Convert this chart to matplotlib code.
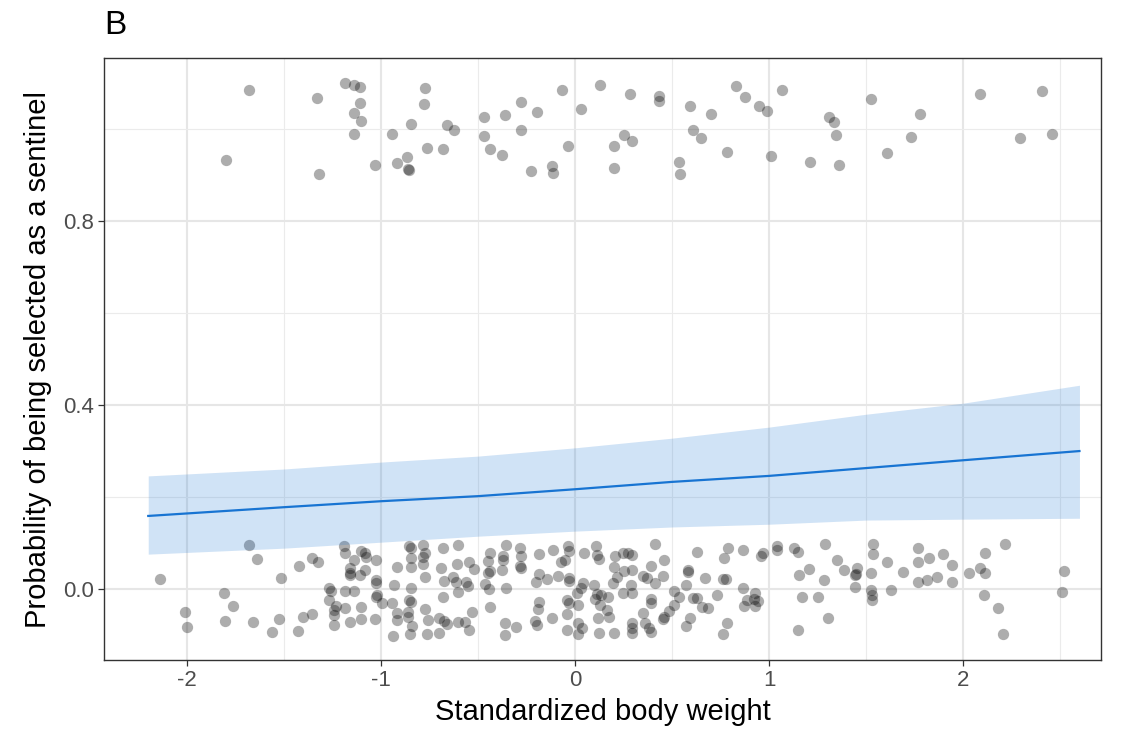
import matplotlib
matplotlib.use("Agg")
import matplotlib.pyplot as plt
from matplotlib.ticker import MultipleLocator

plt.rcParams['font.family'] = ['Liberation Sans', 'DejaVu Sans']
plt.rcParams['axes.unicode_minus'] = False

# ---- data: jittered observations (selected = ~1, not selected = ~0) ----
sel_x = [-1.68, -1.33, -1.186, -1.139, -1.108, -1.108, -1.139, -1.103, -1.139, -1.799, -1.320, -1.031,
         -0.773, -0.778, -0.845, -0.943, -0.660, -0.624, -0.763, -0.680, -0.918, -0.866, -0.861, -0.855,
         -0.469, -0.361, -0.278, -0.196, -0.067, 0.129, 0.031, -0.469, -0.438, -0.376, -0.278, -0.227, -0.119, -0.113, -0.036,
         0.284, 0.433, 0.433, 0.593, 0.701, 0.830, 0.876, 0.948, 0.990, 1.067, 1.309, 1.335, 1.345,
         0.253, 0.294, 0.201, 0.201, 0.608, 0.649, 0.536, 0.541, 0.784, 1.010, 1.211, 1.361,
         1.526, 1.778, 1.732, 1.608, 2.088, 2.407, 2.294, 2.459]
sel_y = [1.085, 1.067, 1.100, 1.096, 1.091, 1.057, 1.035, 1.017, 0.989, 0.933, 0.902, 0.922,
         1.089, 1.054, 1.011, 0.989, 1.009, 0.998, 0.959, 0.957, 0.926, 0.939, 0.913, 0.911,
         1.026, 1.030, 1.059, 1.037, 1.085, 1.096, 1.043, 0.985, 0.957, 0.943, 0.998, 0.909, 0.920, 0.904, 0.963,
         1.076, 1.072, 1.061, 1.050, 1.033, 1.093, 1.070, 1.050, 1.039, 1.085, 1.026, 1.015, 0.987,
         0.987, 0.974, 0.963, 0.915, 0.998, 0.980, 0.928, 0.902, 0.950, 0.941, 0.928, 0.922,
         1.065, 1.033, 0.983, 0.948, 1.076, 1.083, 0.980, 0.989]

non_x = [-1.680, -1.639, -2.139, -1.809, -1.763, -2.010, -2.000, -1.804, -1.660, -1.562,
         -1.526, -1.515, -1.423, -1.356, -1.325, -1.402, -1.356, -1.428, -1.191, -1.186,
         -1.139, -1.103, -1.082, -1.077, -1.026, -1.160, -1.160, -1.160, -1.082, -1.108,
         -1.026, -1.268, -1.260, -1.186, -1.139, -1.268, -1.026, -1.020, -1.232, -1.242,
         -1.242, -1.186, -1.103, -1.242, -1.160, -1.103, -1.031,
         -0.856, -0.845, -0.784, -0.773, -0.680, -0.603, -0.845, -0.845, -0.784, -0.784,
         -0.918, -0.773, -0.691, -0.608, -0.546, -0.521, -1.026, -0.933, -0.845, -0.675,
         -0.629, -0.613, -0.562, -0.552, -0.603, -0.995, -0.943, -0.856, -0.845, -0.680,
         -0.773, -0.531, -0.918, -0.918, -0.861, -0.861, -0.840, -0.758, -0.701, -0.675,
         -0.660, -0.603, -0.567, -0.546, -0.938, -0.851, -0.763, -0.701,
         -0.438, -0.448, -0.438, -0.448, -0.464, -0.443, -0.371, -0.371, -0.356, -0.284,
         -0.278, -0.278, -0.283, -0.376, -0.356, -0.438, -0.361, -0.304, -0.361,
         -0.186, -0.113, -0.036, -0.031, -0.052, -0.072, -0.186, -0.201, -0.144, -0.088,
         -0.031, -0.031, -0.186, -0.191, -0.119, -0.206, -0.196, -0.041, -0.031, 0.015,
         -0.041, -0.041, 0.015, 0.036, 0.015, 0.124, 0.046, 0.108, 0.113, 0.124,
         0.041, 0.031, 0.010, 0.098, 0.113, 0.103, 0.134, 0.170, 0.119, 0.165,
         0.206, 0.247, 0.273, 0.294, 0.412, 0.459, 0.392, 0.201, 0.253, 0.294,
         0.216, 0.196, 0.351, 0.371, 0.454, 0.412, 0.289, 0.247, 0.294, 0.392,
         0.392, 0.129, 0.175, 0.351, 0.294, 0.294, 0.294, 0.361, 0.381, 0.392,
         0.454, 0.459, 0.485, 0.510, 0.536, 0.510, 0.201, 0.629, 0.582, 0.582,
         0.572, 0.670, 0.608, 0.629, 0.655, 0.686, 0.732, 0.572, 0.593, 0.763,
         0.778, 0.768, 0.789, 0.866, 0.959, 0.969, 0.866, 0.928, 0.923, 0.943,
         0.887, 0.871, 0.928, 0.784, 0.763, 1.041, 1.041, 1.129, 1.149, 1.289,
         1.351, 1.206, 1.155, 1.284, 1.170, 1.253, 1.304, 1.149,
         1.536, 1.536, 1.387, 1.454, 1.443, 1.448, 1.443, 1.526, 1.608, 1.526,
         1.531, 1.531, 1.629, 1.691, 1.768, 1.768, 1.825, 1.897, 1.943, 1.768,
         1.814, 1.866, 1.943, 2.031, 2.088, 2.113, 2.113, 2.108, 2.216, 2.180,
         2.206, 2.521, 2.510]
non_y = [0.096, 0.065, 0.022, -0.009, -0.037, -0.050, -0.083, -0.070, -0.072, -0.093,
         -0.065, 0.024, 0.050, 0.067, 0.059, -0.061, -0.054, -0.091, 0.093, 0.078,
         0.063, 0.083, 0.078, 0.070, 0.063, 0.046, 0.035, 0.030, 0.041, 0.030,
         0.020, 0.002, -0.003, -0.004, -0.004, -0.024, -0.017, -0.012, -0.037, -0.046,
         -0.057, -0.041, -0.039, -0.078, -0.072, -0.065, -0.065,
         0.093, 0.089, 0.096, 0.078, 0.089, 0.096, 0.067, 0.048, 0.070, 0.054,
         0.048, 0.026, 0.046, 0.054, 0.059, 0.043, 0.013, 0.009, 0.002, 0.017,
         0.026, 0.015, 0.015, 0.007, -0.007, -0.030, -0.030, -0.024, -0.028, -0.017,
         -0.043, -0.050, -0.052, -0.067, -0.050, -0.061, -0.080, -0.067, -0.063, -0.070,
         -0.076, -0.072, -0.072, -0.089, -0.102, -0.098, -0.098, -0.096,
         0.078, 0.061, 0.039, 0.035, 0.011, 0.000, 0.063, 0.072, 0.096, 0.089,
         0.072, 0.046, 0.050, 0.041, 0.002, -0.039, -0.074, -0.083, -0.100,
         0.076, 0.085, 0.093, 0.083, 0.063, 0.059, 0.033, 0.015, 0.022, 0.028,
         0.024, 0.017, -0.028, -0.043, -0.063, -0.070, -0.078, -0.024, -0.030, -0.035,
         -0.054, -0.089, -0.074, -0.085, -0.098, -0.096, 0.078, 0.093, 0.074, 0.065,
         0.013, 0.002, -0.009, 0.009, -0.011, -0.022, -0.013, -0.017, -0.063, -0.046,
         0.072, 0.078, 0.078, 0.074, 0.098, 0.063, 0.050, 0.048, 0.039, 0.041,
         0.026, 0.013, 0.028, 0.024, 0.028, 0.013, 0.009, -0.009, -0.009, -0.022,
         -0.030, -0.035, -0.061, -0.052, -0.074, -0.085, -0.096, -0.074, -0.085, -0.093,
         -0.065, -0.061, -0.048, -0.035, -0.017, -0.004, -0.096, 0.080, 0.041, 0.037,
         0.009, 0.024, -0.020, -0.020, -0.039, -0.041, -0.013, -0.080, -0.063, 0.022,
         0.022, 0.067, 0.089, 0.085, 0.072, 0.078, 0.002, -0.009, -0.022, -0.026,
         -0.024, -0.037, -0.037, -0.074, -0.098, 0.093, 0.085, 0.089, 0.080, 0.098,
         0.063, 0.043, 0.030, 0.020, -0.017, -0.017, -0.063, -0.089,
         0.098, 0.076, 0.041, 0.046, 0.030, 0.033, 0.004, 0.035, 0.059, -0.002,
         -0.013, -0.024, -0.002, 0.037, 0.089, 0.059, 0.067, 0.076, 0.052, 0.015,
         0.020, 0.026, 0.015, 0.035, 0.046, 0.078, 0.035, -0.013, 0.098, -0.041,
         -0.098, 0.039, -0.007]

# ---- fitted probability and confidence band ----
fit_x = [-2.2, -1.5, -1.0, -0.5, 0.0, 0.5, 1.0, 1.5, 2.0, 2.6]
fit_p = [0.159, 0.178, 0.191, 0.202, 0.217, 0.233, 0.246, 0.263, 0.280, 0.300]
fit_lo = [0.076, 0.089, 0.102, 0.115, 0.126, 0.135, 0.141, 0.150, 0.152, 0.154]
fit_hi = [0.246, 0.261, 0.276, 0.289, 0.307, 0.328, 0.352, 0.380, 0.404, 0.443]

x_ticks = [-2, -1, 0, 1, 2]
y_ticks = [0.0, 0.4, 0.8]
x_ticklabels = ['-2', '-1', '0', '1', '2']
y_ticklabels = ['0.0', '0.4', '0.8']

fig = plt.figure(figsize=(11.34, 7.36), dpi=100)
ax = fig.add_axes([104/1134, 1 - 660/736, (1101-104)/1134, (660-58)/736])

ax.set_xlim(-2.428, 2.711)
ax.set_ylim(-0.154, 1.154)

# grid
ax.set_xticks(x_ticks)
ax.set_yticks(y_ticks)
ax.xaxis.set_minor_locator(MultipleLocator(0.5))
ax.yaxis.set_minor_locator(MultipleLocator(0.2))
ax.grid(which='major', color='#E6E6E6', linewidth=1.5, zorder=0)
ax.grid(which='minor', color='#EBEBEB', linewidth=0.8, zorder=0)
ax.set_axisbelow(True)
ax.tick_params(which='minor', length=0)

ax.scatter(sel_x, sel_y, s=66, color='black', alpha=0.32, linewidths=0, zorder=2)
ax.scatter(non_x, non_y, s=66, color='black', alpha=0.32, linewidths=0, zorder=2)

ax.fill_between(fit_x, fit_lo, fit_hi, color='#1874D2', alpha=0.2, linewidth=0, zorder=3)
ax.plot(fit_x, fit_p, color='#1874D2', linewidth=1.6, zorder=4)

ax.set_xticklabels(x_ticklabels)
ax.set_yticklabels(y_ticklabels)
ax.tick_params(which='major', length=4, width=0.9, color='#333333',
               labelsize=16, labelcolor='#4D4D4D', pad=3)

for sp in ax.spines.values():
    sp.set_color('#333333')
    sp.set_linewidth(1.0)

ax.set_xlabel('Standardized body weight', fontsize=21, color='black', labelpad=5)
ax.set_ylabel('Probability of being selected as a sentinel', fontsize=21, color='black', labelpad=8)

fig.text(104/1134, 1 - 34/736, 'B', fontsize=24, color='black', ha='left', va='baseline')

fig.savefig('out.png', dpi=100)
